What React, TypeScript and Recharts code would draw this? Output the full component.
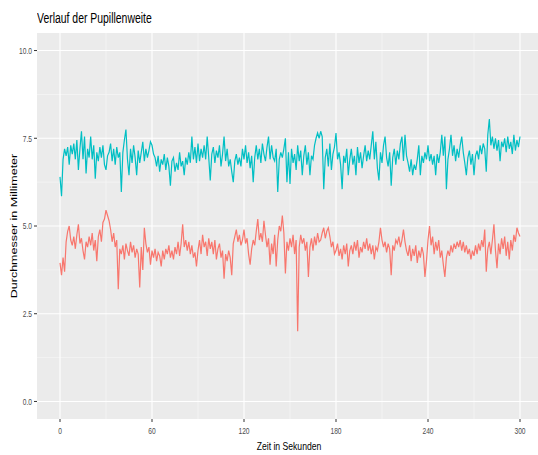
import { LineChart, Line, XAxis, YAxis, CartesianGrid } from 'recharts';

// Zeit in Sekunden: ein Messwert pro Sekunde, 0 bis 300
const SAMPLE_STEP = 1;

// obere Kurve (türkis)
const upperSeries = [
  6.4, 5.85, 6.9, 7.2, 7.0, 7.25, 6.75, 7.3, 7.05, 7.35,
  6.9, 7.45, 6.6, 7.2, 7.7, 6.9, 7.55, 6.5, 7.2, 6.95,
  7.55, 6.9, 7.3, 6.35, 7.1, 6.85, 7.25, 6.95, 7.3, 6.75,
  6.6, 7.0, 7.1, 7.35, 6.85, 7.2, 6.75, 7.25, 6.95, 7.1,
  5.97, 7.1, 7.45, 7.75, 6.9, 6.45, 7.2, 6.8, 7.3, 6.95,
  6.45, 7.15, 6.8, 7.1, 7.4, 6.85, 7.2, 6.95, 7.15, 7.4,
  7.3, 7.05, 6.95, 6.7, 7.0, 6.55, 6.9, 6.75, 7.05, 6.6,
  6.95, 6.7, 6.15, 6.85, 6.95, 6.55, 6.8, 6.6, 7.1, 6.7,
  6.85, 6.45, 6.95, 6.75, 7.1, 6.8, 7.55, 6.9, 7.25, 6.8,
  7.35, 6.85, 7.2, 6.95, 7.3, 6.9, 7.55, 6.95, 6.3, 7.05,
  7.25, 6.8, 7.15, 6.95, 7.3, 6.7, 7.05, 7.55, 6.85, 7.2,
  6.7, 6.9, 6.55, 6.25, 6.85, 7.05, 6.75, 6.95, 6.7, 7.2,
  6.9, 7.3, 6.8, 7.1, 6.65, 7.0, 6.25, 6.95, 7.3, 6.9,
  7.2, 6.8, 7.35, 7.05, 6.85, 7.25, 7.55, 6.9, 7.3, 6.95,
  6.85, 7.2, 5.97, 6.9, 7.1, 6.95, 7.2, 7.5, 6.25, 7.1,
  6.2, 7.2, 6.8, 7.05, 6.6, 7.3, 6.85, 7.15, 6.45, 7.0,
  7.3, 6.75, 7.1, 6.45, 7.0, 6.9, 7.3, 7.5, 7.65, 7.5,
  7.7, 7.55, 6.05, 6.95, 7.2, 6.7, 7.35, 6.6, 7.05, 7.25,
  7.65, 6.9, 7.1, 6.75, 6.05, 7.0, 6.8, 7.2, 6.45, 6.9,
  7.2, 6.75, 7.0, 6.45, 7.25, 6.8, 7.1, 6.65, 7.0, 7.3,
  6.85, 7.15, 6.9, 7.3, 7.7, 6.9, 7.4, 6.65, 6.3, 7.1,
  6.8, 7.3, 7.55, 6.95, 6.7, 7.1, 6.15, 6.95, 7.2, 6.75,
  7.15, 6.9, 7.35, 7.55, 6.85, 7.6, 7.0, 6.8, 6.55, 6.9,
  6.45, 6.75, 6.6, 6.9, 7.3, 6.45, 7.0, 6.8, 7.1, 6.9,
  7.3, 6.85, 7.05, 6.75, 7.0, 6.45, 7.05, 6.8, 7.1, 7.6,
  7.0, 7.55, 6.05, 6.9, 7.2, 7.6, 7.0, 7.3, 6.85, 7.2,
  6.95, 7.3, 7.55, 7.1, 6.8, 6.45, 6.95, 7.15, 6.75, 7.05,
  6.45, 7.0, 7.15, 6.9, 7.3, 7.05, 7.35, 7.2, 6.55, 7.6,
  8.05, 7.3, 7.55, 7.2, 7.5, 7.15, 7.45, 6.85, 7.4, 7.25,
  7.5, 7.1, 7.55, 7.2, 7.4, 7.05, 7.6, 7.15, 7.45, 7.25,
  7.55,
];

// untere Kurve (lachsrot)
const lowerSeries = [
  3.95, 3.6, 4.1, 3.7, 4.55, 4.85, 5.0, 4.6, 4.45, 4.7,
  4.35, 4.75, 5.05, 4.5, 4.65, 4.3, 4.05, 4.55, 4.4, 4.7,
  4.45, 4.8, 4.3, 4.6, 4.0, 4.7, 4.9, 4.55, 5.1, 5.2,
  5.45, 5.3, 5.15, 4.9, 4.55, 4.8, 4.4, 4.6, 3.2, 4.35,
  4.2, 4.45, 4.05, 4.5, 4.3, 4.15, 4.55, 4.25, 4.45, 4.1,
  4.35, 4.2, 3.25, 4.4, 3.75, 4.95, 4.5, 4.25, 4.4, 3.9,
  4.3, 4.1, 4.35, 4.0, 4.25, 4.15, 3.85, 4.3, 4.05, 4.35,
  4.2, 4.45, 4.1, 4.3, 4.05, 4.4, 4.2, 4.55, 4.15, 4.5,
  5.05, 4.4, 4.6, 4.3, 4.55, 4.2, 4.45, 4.1, 4.25, 3.85,
  4.3, 4.6, 4.2, 4.75, 4.4, 4.55, 4.15, 4.65, 4.35, 4.55,
  4.2, 4.6, 4.05, 4.35, 4.5, 4.1, 4.3, 3.5, 4.2, 4.0,
  4.3, 4.1, 3.6, 4.5, 4.7, 4.9, 4.55, 4.75, 4.45, 4.6,
  4.9, 4.5, 4.65, 4.2, 3.9, 4.35, 4.6, 4.45, 4.85, 5.2,
  4.6, 4.8, 4.55, 5.15, 4.75, 4.4, 4.65, 3.9, 4.5, 4.2,
  4.75, 3.85, 4.6, 5.0, 4.85, 5.3, 4.8, 3.65, 4.55, 4.3,
  4.65, 4.4, 4.75, 4.2, 4.6, 2.0, 4.4, 4.75, 4.5, 4.65,
  4.3, 4.55, 3.55, 4.4, 4.65, 4.3, 4.7, 4.45, 4.8, 4.55,
  4.6, 4.8, 4.95, 4.65, 4.85, 4.95, 4.7, 4.4, 4.55, 4.2,
  4.3, 4.5, 4.15, 4.35, 4.05, 4.45, 4.2, 4.5, 3.85, 4.3,
  4.45, 4.2, 4.55, 4.3, 4.6, 4.1, 4.4, 4.25, 4.55, 4.35,
  4.65, 4.3, 4.5, 4.2, 4.45, 4.05, 4.4, 4.3, 4.55, 4.95,
  4.6, 4.4, 4.55, 4.25, 4.5, 4.35, 3.6, 4.45, 4.3, 4.6,
  4.5, 4.7, 4.4, 4.6, 4.9, 4.55, 4.3, 4.15, 4.45, 4.0,
  4.35, 4.15, 4.45, 3.95, 4.3, 4.1, 4.4, 4.2, 3.55, 4.0,
  4.6, 5.0, 4.45, 4.7, 4.2, 4.55, 4.3, 4.6, 4.1, 4.3,
  3.9, 3.55, 4.1, 4.3, 4.15, 4.45, 4.25, 4.5, 4.35, 4.55,
  4.4, 4.6, 4.3, 4.55, 4.25, 4.45, 4.2, 4.35, 4.05, 4.3,
  4.15, 4.45, 4.2, 4.5, 4.3, 4.6, 4.4, 4.9, 3.7, 4.35,
  4.55, 4.2, 4.6, 5.05, 4.3, 3.8, 4.5, 4.2, 4.65, 4.35,
  4.7, 4.15, 4.55, 4.05, 4.6, 4.3, 4.75, 4.55, 4.95, 4.8,
  4.7,
];

const xTicks = [0, 60, 120, 180, 240, 300];
const xMinor = [30, 90, 150, 210, 270];
const yTicks = [0, 2.5, 5, 7.5, 10];
const yMinor = [1.25, 3.75, 6.25, 8.75];

const data = upperSeries.map((v, i) => ({
  t: i * SAMPLE_STEP,
  oben: v,
  unten: lowerSeries[i],
}));

const FONT = '"Liberation Sans", Arial, sans-serif';
const SQUEEZE = 0.68; // Schrift im Original horizontal gestaucht

const XTick = ({ x, y, payload }: any) => (
  <text
    transform={`translate(${x},${y}) scale(${SQUEEZE},1)`}
    textAnchor="middle"
    dy="0.71em"
    fontSize={9.8}
    fontFamily={FONT}
    fill="#4D4D4D"
  >
    {payload.value}
  </text>
);

const YTick = ({ x, y, payload }: any) => (
  <text
    transform={`translate(${x},${y}) scale(${SQUEEZE},1)`}
    textAnchor="end"
    dy="0.35em"
    fontSize={9.8}
    fontFamily={FONT}
    fill="#4D4D4D"
  >
    {Number(payload.value).toFixed(1)}
  </text>
);

export default function App() {
  return (
    <div
      style={{
        position: 'absolute',
        left: 0,
        top: 0,
        width: 538,
        height: 455,
        overflow: 'hidden',
        background: '#fff',
        fontFamily: FONT,
      }}
    >
      <div
        style={{
          position: 'absolute',
          left: 37,
          top: 11,
          fontSize: 14.9,
          lineHeight: 1,
          whiteSpace: 'nowrap',
          color: '#000',
          transform: `scaleX(${SQUEEZE + 0.02})`,
          transformOrigin: 'left top',
        }}
      >
        Verlauf der Pupillenweite
      </div>
      <div
        style={{
          position: 'absolute',
          left: 189,
          width: 200,
          top: 441,
          fontSize: 11.8,
          lineHeight: 1,
          textAlign: 'center',
          whiteSpace: 'nowrap',
          color: '#000',
          transform: `scaleX(${SQUEEZE + 0.05})`,
        }}
      >
        Zeit in Sekunden
      </div>
      <div
        style={{
          position: 'absolute',
          left: 14 - 100,
          width: 200,
          top: 226 - 7,
          fontSize: 12.5,
          lineHeight: '14px',
          textAlign: 'center',
          whiteSpace: 'nowrap',
          color: '#000',
          transform: `scaleX(${SQUEEZE + 0.05}) rotate(-90deg)`,
        }}
      >
        Durchmesser in Millimeter
      </div>
      <LineChart
        width={543}
        height={455}
        data={data}
        margin={{ top: 33, right: 0, bottom: 0, left: 0 }}
      >
        <CartesianGrid
          fill="#EBEBEB"
          stroke="#F5F5F5"
          strokeWidth={0.8}
          horizontalValues={yMinor}
          verticalValues={xMinor}
        />
        <CartesianGrid
          stroke="#FFFFFF"
          strokeWidth={1.1}
          horizontalValues={yTicks}
          verticalValues={xTicks}
        />
        <XAxis
          type="number"
          dataKey="t"
          domain={[-15, 315]}
          ticks={xTicks}
          allowDataOverflow
          height={36}
          axisLine={false}
          tickSize={3}
          tickMargin={5}
          tickLine={{ stroke: '#333333' }}
          tick={<XTick />}
        />
        <YAxis
          type="number"
          domain={[-0.5, 10.5]}
          ticks={yTicks}
          allowDataOverflow
          width={37}
          axisLine={false}
          tickSize={3}
          tickMargin={2}
          tickLine={{ stroke: '#333333' }}
          tick={<YTick />}
        />
        <Line
          type="linear"
          dataKey="unten"
          stroke="#F8766D"
          strokeWidth={1.2}
          dot={false}
          isAnimationActive={false}
        />
        <Line
          type="linear"
          dataKey="oben"
          stroke="#00BFC4"
          strokeWidth={1.2}
          dot={false}
          isAnimationActive={false}
        />
      </LineChart>
    </div>
  );
}
